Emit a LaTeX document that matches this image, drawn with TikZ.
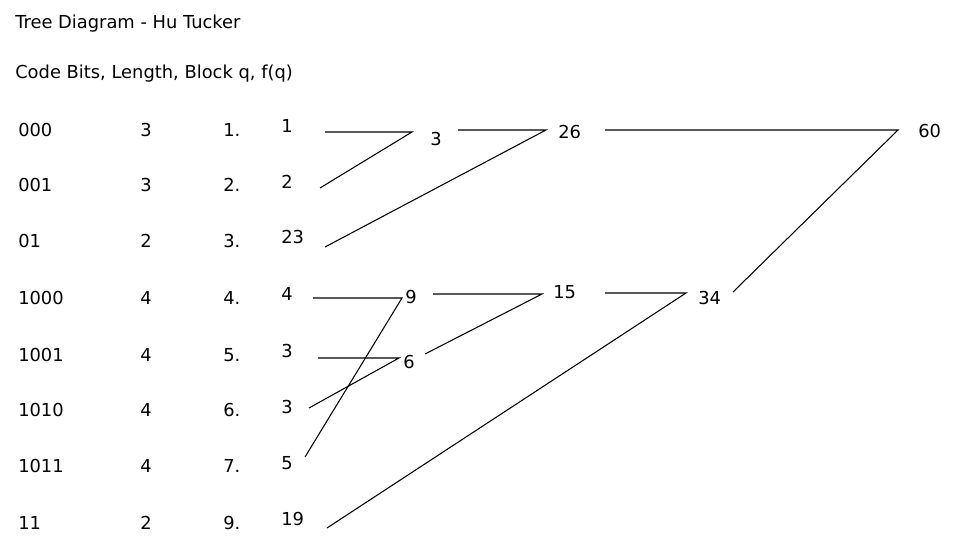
\documentclass[tikz,border=0pt]{standalone}
\usepackage{fontspec}
\setmainfont{DejaVu Sans}
\usetikzlibrary{positioning}

\tikzset{
  lbl/.style={anchor=base west,inner sep=0pt,font=\fontsize{13.4}{16}\selectfont},
  branch/.style={black,line width=0.8pt}
}

\begin{document}
\begin{tikzpicture}[x=0.75pt,y=-0.75pt]
  \useasboundingbox[fill=white] (0,0) rectangle (958,546);
  \node[lbl] (title) at (15,28) {Tree Diagram - Hu Tucker};
  \node[lbl] (head) at (15,78) {Code Bits, Length, Block q, f(q)};
  % code bits, length, block
  \foreach \c/\l/\b/\y [count=\i] in {000/3/1./136, 001/3/2./191, 01/2/3./247,
      1000/4/4./304, 1001/4/5./361, 1010/4/6./416, 1011/4/7./472, 11/2/9./529} {
    \node[lbl] (c\i) at (18,\y) {\c};
    \node[lbl] (l\i) at (140,\y) {\l};
    \node[lbl] (b\i) at (223,\y) {\b};}
  % f(q)
  \node[lbl] (f1) at (281,132) {1};
  \node[lbl] (f2) at (281,188) {2};
  \node[lbl] (f3) at (281,243) {23};
  \node[lbl] (f4) at (281,300) {4};
  \node[lbl] (f5) at (281,357) {3};
  \node[lbl] (f6) at (281,413) {3};
  \node[lbl] (f7) at (281,469) {5};
  \node[lbl] (f8) at (281,525) {19};
  % merged weights
  \node[lbl] (n3) at (430,145) {3};
  \node[lbl] (n26) at (558,138) {26};
  \node[lbl] (n60) at (918,137) {60};
  \node[lbl] (n9) at (405,303) {9};
  \node[lbl] (n6) at (403,368) {6};
  \node[lbl] (n15) at (553,298) {15};
  \node[lbl] (n34) at (698,304) {34};
  % line ends
  \coordinate (s1) at (325,132);
  \coordinate (s2) at (320,188);
  \coordinate (s3) at (325,247);
  \coordinate (s4) at (313,298);
  \coordinate (s5) at (318,358);
  \coordinate (s6) at (309,408);
  \coordinate (s7) at (305,457);
  \coordinate (s8) at (327,528);
  \coordinate (o3) at (458,130);
  \coordinate (o26) at (605,130);
  \coordinate (o9) at (433,294);
  \coordinate (o6) at (425,354);
  \coordinate (o15) at (605,293);
  \coordinate (o34) at (733,292);
  \coordinate (j3) at (412,132);
  \coordinate (j26) at (546,130);
  \coordinate (j60) at (898,130);
  \coordinate (j9) at (402,298);
  \coordinate (j6) at (399,358);
  \coordinate (j15) at (542,294);
  \coordinate (j34) at (686,293);
  % branches
  \draw[branch] (s1) -- (j3) -- (s2);
  \draw[branch] (o3) -- (j26) -- (s3);
  \draw[branch] (o26) -- (j60) -- (o34);
  \draw[branch] (s4) -- (j9) -- (s7);
  \draw[branch] (s5) -- (j6) -- (s6);
  \draw[branch] (o9) -- (j15) -- (o6);
  \draw[branch] (o15) -- (j34) -- (s8);
\end{tikzpicture}
\end{document}
